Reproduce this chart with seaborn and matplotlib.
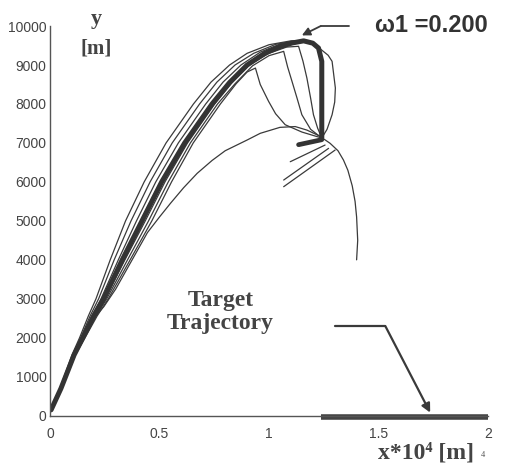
import matplotlib
matplotlib.use("Agg")
import matplotlib.pyplot as plt
import seaborn as sns
import pandas as pd

# ---------------- data ----------------
# thick (omega1 = 0.200) trajectory
thick_x = [0.005, 0.05, 0.11, 0.15, 0.20, 0.245, 0.33, 0.42, 0.51, 0.615, 0.74, 0.82, 0.90, 0.98, 1.05, 1.105, 1.158, 1.20, 1.226, 1.241, 1.241]
thick_y = [150, 700, 1558, 2000, 2558, 3000, 4000, 5000, 6000, 7000, 8000, 8550, 9000, 9300, 9470, 9564, 9620, 9560, 9436, 9094, 7126]

# thin trajectories of the bundle
u1_x = [0.005, 0.045, 0.10, 0.135, 0.175, 0.21, 0.275, 0.345, 0.43, 0.53, 0.655, 0.735, 0.82, 0.90, 1.00, 1.10, 1.17, 1.226, 1.27, 1.288, 1.303, 1.30, 1.288, 1.265, 1.241]
u1_y = [150, 700, 1558, 2000, 2558, 3000, 4000, 5000, 6000, 7000, 8000, 8560, 9000, 9300, 9520, 9620, 9620, 9450, 9250, 9094, 8409, 8050, 7724, 7350, 7126]

u2_x = [0.005, 0.047, 0.103, 0.14, 0.183, 0.222, 0.293, 0.37, 0.457, 0.558, 0.683, 0.762, 0.845, 0.93, 1.03, 1.12, 1.158, 1.20, 1.226, 1.241, 1.241]
u2_y = [150, 700, 1558, 2000, 2558, 3000, 4000, 5000, 6000, 7000, 8000, 8560, 9000, 9300, 9530, 9620, 9620, 9560, 9436, 9094, 7126]

u3_x = [0.005, 0.048, 0.106, 0.145, 0.19, 0.233, 0.312, 0.395, 0.483, 0.586, 0.711, 0.79, 0.872, 0.96, 1.06, 1.158, 1.20, 1.226, 1.241, 1.241]
u3_y = [150, 700, 1558, 2000, 2558, 3000, 4000, 5000, 6000, 7000, 8000, 8560, 9000, 9330, 9560, 9620, 9560, 9436, 9094, 7126]

b3_x = [0.005, 0.051, 0.112, 0.153, 0.205, 0.252, 0.342, 0.435, 0.525, 0.628, 0.752, 0.83, 0.91, 1.00, 1.08, 1.135, 1.155, 1.173, 1.19, 1.203, 1.222, 1.241]
b3_y = [150, 700, 1558, 2000, 2558, 3000, 4000, 5000, 6000, 7000, 8000, 8540, 9000, 9300, 9460, 9480, 9100, 8665, 8150, 7724, 7380, 7126]

b2_x = [0.005, 0.052, 0.114, 0.156, 0.21, 0.259, 0.354, 0.45, 0.54, 0.641, 0.765, 0.845, 0.925, 1.00, 1.067, 1.085, 1.105, 1.128, 1.15, 1.19, 1.241]
b2_y = [150, 700, 1558, 2000, 2558, 3000, 4000, 5000, 6000, 7000, 8000, 8520, 8980, 9240, 9350, 8950, 8580, 8150, 7724, 7350, 7126]

b1_x = [0.005, 0.053, 0.116, 0.16, 0.215, 0.266, 0.366, 0.465, 0.555, 0.654, 0.778, 0.85, 0.90, 0.938, 0.96, 0.998, 1.03, 1.074, 1.15, 1.241]
b1_y = [150, 700, 1558, 2000, 2558, 3000, 4000, 5000, 6000, 7000, 8000, 8520, 8820, 8922, 8500, 8068, 7750, 7467, 7280, 7126]

low_x = [0.005, 0.05, 0.11, 0.15, 0.20, 0.246, 0.30, 0.37, 0.445, 0.50, 0.55, 0.61, 0.672, 0.74, 0.80, 0.90, 0.96, 1.05, 1.12, 1.173, 1.23, 1.279, 1.315, 1.34, 1.36, 1.38, 1.393, 1.40, 1.405, 1.40]
low_y = [150, 700, 1558, 2000, 2500, 2800, 3250, 3950, 4700, 5100, 5450, 5850, 6220, 6550, 6800, 7075, 7247, 7400, 7420, 7330, 7180, 6990, 6800, 6561, 6300, 5900, 5500, 5100, 4500, 4000]

# short straight segments near the meeting point
seg_x0 = [1.256, 1.272, 1.302]
seg_y0 = [6946, 6861, 6818]
seg_x1 = [1.097, 1.067, 1.067]
seg_y1 = [6518, 6048, 5877]
thick_seg_x = [1.135, 1.241]
thick_seg_y = [6955, 7083]

# target trajectory
target_x = [1.237, 2.0]
target_y = [-30, -30]

x_ticks = [0, 0.5, 1, 1.5, 2]
x_tick_labels = ["0", "0.5", "1", "1.5", "2"]
y_ticks = [0, 1000, 2000, 3000, 4000, 5000, 6000, 7000, 8000, 9000, 10000]
y_tick_labels = [str(v) for v in y_ticks]

# ---------------- plot ----------------
sns.set_style("white")
plt.rcParams["font.family"] = ["Liberation Sans", "DejaVu Sans"]

ink = "#3a3a3a"
fig = plt.figure(figsize=(5.23, 4.65), dpi=100)
ax = fig.add_axes([0.0956, 0.106, 0.8375, 0.838])

rows = []
for name, xs, ys in [("u1", u1_x, u1_y), ("u2", u2_x, u2_y), ("u3", u3_x, u3_y),
                     ("b3", b3_x, b3_y), ("b2", b2_x, b2_y), ("b1", b1_x, b1_y),
                     ("low", low_x, low_y)]:
    for i, (xv, yv) in enumerate(zip(xs, ys)):
        rows.append({"curve": name, "order": i, "x": xv, "y": yv})
for k in range(len(seg_x0)):
    rows.append({"curve": f"s{k}", "order": 0, "x": seg_x0[k], "y": seg_y0[k]})
    rows.append({"curve": f"s{k}", "order": 1, "x": seg_x1[k], "y": seg_y1[k]})
thin_df = pd.DataFrame(rows)

sns.lineplot(data=thin_df, x="x", y="y", units="curve", estimator=None, sort=False,
             color=ink, linewidth=0.9, ax=ax, legend=False)

thick_df = pd.DataFrame({"x": thick_x, "y": thick_y})
sns.lineplot(data=thick_df, x="x", y="y", sort=False, estimator=None,
             color="#333333", linewidth=3.6, ax=ax, legend=False)
seg_df = pd.DataFrame({"x": thick_seg_x, "y": thick_seg_y})
sns.lineplot(data=seg_df, x="x", y="y", sort=False, estimator=None,
             color="#333333", linewidth=3.4, ax=ax, legend=False)

ax.plot(target_x, target_y, color="#444444", linewidth=4.0, clip_on=False,
        solid_capstyle="butt")

ax.set_xlim(0, 2)
ax.set_ylim(0, 10000)
ax.set_xticks(x_ticks)
ax.set_xticklabels(x_tick_labels)
ax.set_yticks(y_ticks)
ax.set_yticklabels(y_tick_labels)
ax.set_xlabel("")
ax.set_ylabel("")
for s in ["top", "right"]:
    ax.spines[s].set_visible(False)
for s in ["left", "bottom"]:
    ax.spines[s].set_color("#555555")
    ax.spines[s].set_linewidth(1.0)
ax.tick_params(axis="y", direction="inout", length=5, width=0.8, color="#555555",
               labelsize=10, labelcolor="#444444", pad=0)
ax.tick_params(axis="x", direction="in", length=3, width=0.8, color="#555555",
               labelsize=10, labelcolor="#444444", pad=8)

serif = ["Liberation Serif", "DejaVu Serif"]

# omega annotation
ax.plot([1.364, 1.236], [10000, 10000], color=ink, linewidth=1.3, clip_on=False)
ax.annotate("", xy=(1.15, 9760), xytext=(1.236, 10000),
            arrowprops=dict(arrowstyle="-|>", color=ink, lw=1.3, mutation_scale=12,
                            shrinkA=0, shrinkB=0), annotation_clip=False)
ax.text(1.485, 10010, "ω1 =0.200", fontsize=17, fontweight="bold", color="#333333",
        ha="left", va="center", clip_on=False)

# target annotation
ax.plot([1.302, 1.531], [2302, 2302], color=ink, linewidth=1.6, clip_on=False)
ax.annotate("", xy=(1.736, 80), xytext=(1.531, 2302),
            arrowprops=dict(arrowstyle="-|>", color=ink, lw=1.6, mutation_scale=13,
                            shrinkA=0, shrinkB=0), annotation_clip=False)
ax.text(0.779, 2660, "Target\nTrajectory", fontsize=17, fontweight="bold",
        family=serif, color="#444444", ha="center", va="center", linespacing=1.15)

# axis labels
ax.text(0.21, 10180, "y", fontsize=16, fontweight="bold", family=serif,
        color="#444444", ha="center", va="center", clip_on=False)
ax.text(0.21, 9430, "[m]", fontsize=15, fontweight="bold", family=serif,
        color="#444444", ha="center", va="center", clip_on=False)
ax.text(1.718, -960, "x*10⁴ [m]", fontsize=17, fontweight="bold", family=serif,
        color="#444444", ha="center", va="center", clip_on=False)
ax.text(1.975, -1000, "4", fontsize=6, family=serif, color="#555555",
        ha="center", va="center", clip_on=False)

fig.savefig("out.png", dpi=100, facecolor="white")
